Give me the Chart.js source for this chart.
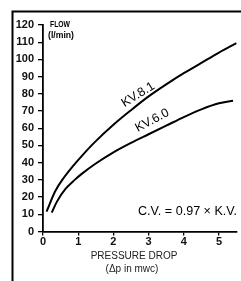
<!DOCTYPE html>
<html>
<head>
<meta charset="utf-8">
<script src="https://cdn.jsdelivr.net/npm/chart.js@4/dist/chart.umd.min.js"></script>
<style>
html,body{margin:0;padding:0;background:#fff;}
#wrap{position:relative;width:241px;height:281px;}
</style>
</head>
<body>
<div id="wrap"><canvas id="c" width="241" height="281"></canvas></div>
<script>
// Data
const kv81Drop = [0.1, 0.35, 0.6, 0.85, 1.15, 1.45, 2, 2.5, 3, 3.5, 4, 4.5, 5, 5.5];
const kv81Flow = [11.5, 23.5, 31.5, 38, 45, 51.5, 62, 70.5, 78.5, 85.5, 92, 98, 104, 109.5];
const kv60Drop = [0.25, 0.4, 0.65, 0.9, 1.1, 1.5, 2, 2.5, 3, 3.5, 4, 4.5, 5, 5.4];
const kv60Flow = [11, 17.5, 25, 30, 33.5, 39.5, 46, 51.5, 56.5, 61.5, 66.5, 71, 74.5, 76];
const yTicks = [0, 10, 20, 30, 40, 50, 60, 70, 80, 90, 100, 110, 120];
const xTicks = [0, 1, 2, 3, 4, 5];
const seriesNames = ['KV.8.1', 'KV.6.0'];
const formulaText = 'C.V. = 0.97 × K.V.';
const yTitle = ['FLOW', '(l/min)'];
const xTitle = ['PRESSURE DROP', '(\u0394p in mwc)'];

const FONT = '"Liberation Sans Narrow", "Liberation Sans", Arial, sans-serif';

function pts(xs, ys){ return xs.map((x,i)=>({x:x, y:ys[i]})); }

const annot = {
  id:'annot',
  afterDraw(chart){
    const ctx = chart.ctx, xs = chart.scales.x, ys = chart.scales.y;
    ctx.save();
    // outer frame
    ctx.strokeStyle = '#000'; ctx.lineWidth = 2;
    ctx.beginPath(); ctx.moveTo(12.5, 281); ctx.lineTo(12.5, 11.5); ctx.lineTo(241, 11.5); ctx.stroke();
    ctx.fillStyle = '#000';
    // y title
    ctx.font = 'bold 9px ' + FONT; ctx.textAlign = 'left'; ctx.textBaseline = 'middle';
    ctx.fillText(yTitle[0], 50, 25, 20);
    ctx.fillText(yTitle[1], 48, 35.5, 26);
    // x title
    ctx.fillStyle = '#222';
    ctx.font = '10px "Liberation Sans", Arial, sans-serif'; ctx.textAlign = 'center';
    ctx.fillText(xTitle[0], 134, 256.5, 88);
    ctx.fillText(xTitle[1], 132, 269, 60);
    // curve labels
    ctx.fillStyle = '#000';
    ctx.font = '12.5px ' + FONT;
    const lab = (t, dx, fy, ang, w) => {
      ctx.save();
      ctx.translate(xs.getPixelForValue(dx), ys.getPixelForValue(fy));
      ctx.rotate(ang*Math.PI/180);
      ctx.textAlign='center'; ctx.textBaseline='middle';
      ctx.fillText(t, 0, 0, w);
      ctx.restore();
    };
    lab(seriesNames[0], 2.7, 79.5, -32, 40);
    lab(seriesNames[1], 3.1, 64.5, -28, 40);
    // formula
    ctx.font = '13px ' + FONT; ctx.textAlign = 'left'; ctx.textBaseline = 'middle';
    ctx.fillText(formulaText, xs.getPixelForValue(2.7), ys.getPixelForValue(11.5), 99);
    ctx.restore();
  }
};

new Chart(document.getElementById('c'), {
  type: 'scatter',
  data: {
    datasets: [
      {label: seriesNames[0], data: pts(kv81Drop, kv81Flow), showLine: true, borderColor:'#000', borderWidth:2, pointRadius:0, cubicInterpolationMode:'monotone', fill:false},
      {label: seriesNames[1], data: pts(kv60Drop, kv60Flow), showLine: true, borderColor:'#000', borderWidth:2, pointRadius:0, cubicInterpolationMode:'monotone', fill:false}
    ]
  },
  options: {
    responsive: false,
    animation: false,
    devicePixelRatio: 1,
    layout: {padding: {top: 25, right: 4.4, left: 0, bottom: 0}},
    plugins: {legend: {display:false}, tooltip: {enabled:false}},
    scales: {
      x: {
        type: 'linear', min: 0, max: 5.5,
        afterBuildTicks(s){ s.ticks = xTicks.map(v=>({value:v})); },
        afterFit(s){ s.height = 49.5; },
        border: {display:true, color:'#000', width:1.8},
        grid: {display:true, drawOnChartArea:false, drawTicks:true, tickLength:4, color:'#000', lineWidth:1.3},
        ticks: {color:'#111', font:{family:FONT, size:11, weight:'bold'}, padding:0, maxRotation:0}
      },
      y: {
        type: 'linear', min: 0, max: 120,
        afterBuildTicks(s){ s.ticks = yTicks.map(v=>({value:v})); },
        afterFit(s){ s.width = 43; },
        border: {display:true, color:'#000', width:1.8},
        grid: {display:true, drawOnChartArea:false, drawTicks:true, tickLength:5, color:'#000', lineWidth:1.3},
        ticks: {color:'#111', font:{family:FONT, size:11, weight:'bold'}, padding:4}
      }
    }
  },
  plugins: [annot]
});
</script>
</body>
</html>
